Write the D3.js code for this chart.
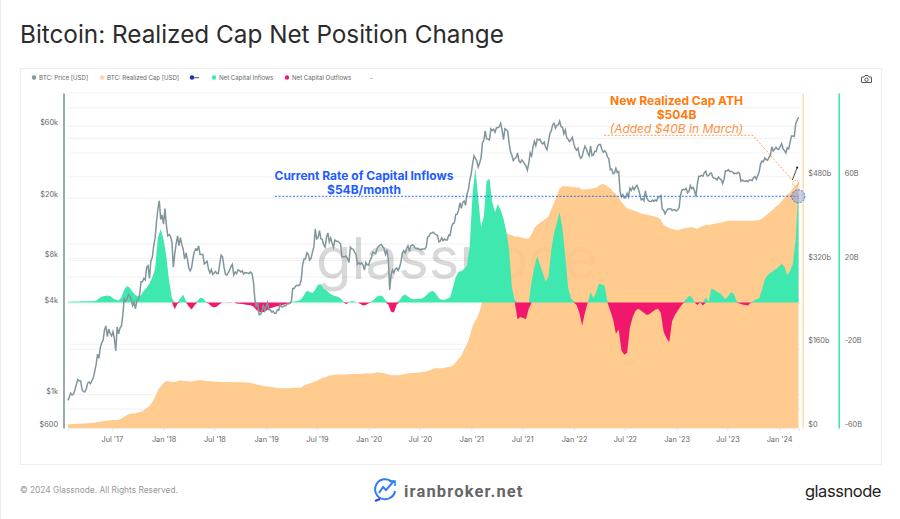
<!DOCTYPE html>
<html>
<head>
<meta charset="utf-8">
<script src="https://cdn.jsdelivr.net/npm/d3@7"></script>
<style>
  html, body { margin: 0; padding: 0; background: #fff; }
  svg { display: block; font-family: Inter, "Noto Sans", sans-serif; }
</style>
</head>
<body>
<svg id="chart" width="900" height="519"></svg>
<script>
// price is sampled every 5 days, cap and flows every 10, all from sampleStart
const sampleStart = new Date(2017, 0, 26);
const priceStepDays = 5;
const sampleStepDays = 10;

const price = [
  915,970,1020,995,1010,1080,1170,1260,1230,1230,1080,1045,1040,1090,1190,1210,1180,1240,1290,1420,
  1580,1850,1740,2050,2200,2300,2690,2850,2420,2720,2550,2450,2610,2350,1950,2800,2530,2750,2850,3350,
  4300,4150,4300,4600,4500,4250,3880,4100,3700,4200,4300,4600,5600,5600,5900,5750,7000,7150,5900,7700,
  8100,9700,10900,14000,17000,19300,14500,15500,13500,17100,13400,11300,11500,11200,10200,7000,8600,10000,11300,9700,
  11000,9900,9200,7900,8700,7900,6900,6600,6950,8050,8900,9250,9100,9700,8500,8500,8500,7350,7500,7650,
  6800,6400,6750,6250,6400,6550,6350,6350,7350,8400,8200,7050,6300,6200,6400,6700,7050,7300,6200,6500,
  6350,6700,6650,6500,6600,6300,6450,6400,6400,6350,6500,6350,5600,4300,3800,4100,3400,3400,3550,3950,
  3600,3800,4050,3650,3650,3530,3570,3450,3460,3650,3620,3950,3820,3820,3880,3880,4000,4000,4030,4150,
  5050,5050,5230,5300,5280,5350,5750,7250,7900,7950,8700,8550,7800,8000,8800,9500,12500,10800,11000,12200,
  10800,10700,9850,9500,11000,11800,10300,10900,10100,9500,10600,10400,10400,10200,10000,8200,8200,8200,8300,7950,
  7500,9500,9250,9200,8800,8500,7300,7500,7300,7500,7200,6700,7500,7250,7200,7750,8100,8800,8700,8600,
  9300,9600,9800,9900,9600,9300,8500,9100,7900,4950,6200,6700,6400,6800,6900,6650,7000,7550,8700,9000,
  8700,9300,9700,8900,9700,9800,9780,9400,9300,9300,9200,9100,9250,9250,9200,9550,11100,11200,11750,11800,
  11950,11650,11500,11400,10300,10400,10950,10500,10750,10600,10600,11400,11350,12950,13600,13750,15600,15700,16700,18700,
  17200,18800,19200,18000,21300,22800,26400,29000,33900,38300,36800,35500,32300,34300,36900,46500,48700,56000,49700,49600,
  48800,57800,56300,57500,55000,58900,58900,59800,63000,56500,49000,57800,57000,55900,46700,40700,38500,35600,36800,37300,
  40000,35600,34600,36000,35200,33800,32800,30800,34200,40000,38200,43800,47800,44800,49500,48900,49300,46800,46000,47200,
  43500,42200,47600,53800,56000,61500,63000,58500,61000,61500,65000,60000,59000,53700,57000,50500,49300,47600,49000,50800,
  46300,43000,41800,43100,38700,36900,37900,41500,44400,42500,40100,38300,44400,38400,38800,41100,41000,44500,45500,45500,
  42200,40500,41400,40400,37700,36600,31000,31300,29200,29500,31700,29700,30100,22100,20500,21200,20100,20200,21600,20500,
  23400,22600,23800,22800,23800,24400,23200,21400,19600,19900,19300,22400,20100,19400,19100,19000,19500,19100,19500,19200,
  20300,20500,20900,17000,16700,15800,16500,17000,17000,17100,16600,16800,16800,16500,16800,17400,20900,22700,23000,22800,
  23300,21800,22200,24300,23200,23600,22400,20600,25000,28000,28000,28400,28100,29600,30300,28200,28300,29200,29500,27600,
  27200,27100,26500,27700,27100,26500,25100,26800,30500,30400,31000,30200,30300,29900,29200,29300,29200,29800,29300,26000,
  26400,26100,25900,26200,25800,26500,26500,26300,27500,27900,26800,28400,29900,33900,35400,35000,37100,36200,35800,37500,
  38700,44000,41200,42300,43700,42500,42300,44200,46100,42500,41600,40000,43300,42600,47100,51800,51800,51500,62400,66000,
  69000
];

const realizedCap = [
  7,7,7.5,8,8,8.5,8.5,9,9.5,10,11,11.5,12.5,14,14.5,15,15.5,15.5,16,18,
  21,25,27,27.5,28,29,31,34,38,42,49,60,72,80,86,90,89,88,88,90,
  91,90,90,89,89,90,91,91,91,90,90,89,89,88.5,88,88,88,88,88,87.5,
  87.5,87.5,87.5,87,87,86,85,83,82,81,80,79.5,79,78,77,76.5,76,76,76,76,
  77,77,77,77.5,81,83,85,87,89,91,94,96,98,100.5,101,101.5,102,102,102,102,
  102.5,103,103,103,103,104,104,104,104,105,106,106,105,104,102,101,101,101,101,102,
  103,104,105,105,106,106,107,107.5,109,111,113,114,114,114,115,116,117,120,125,132,
  138,150,160,175,195,205,215,232,255,275,292,310,330,345,358,366,372,370,368,366,
  366,365,363,362,362,370,382,388,392,396,400,404,418,430,445,458,462,462,462,461,
  460,460,459,455,456,456,457,458,459,463,466,465,462,458,452,447,440,432,425,420,
  418,416,414,412,410,409,408,406,405,404,402,398,388,385,382,380,379,378,379,381,
  382,383,384,382,380,384,386,388,388,389,390,391,392,393,395,396,396,396,396,396,
  396,396,396,396,396,397,397,400,404,409,413,418,423,427,433,440,446,450,458,462,
  470
];

const netFlow = [
  .3,.3,.4,.4,.4,.5,.5,.5,.5,.6,.8,1.8,2.7,3,3.3,3,2,1.3,.9,2.5,
  6,7.8,7,5,3.5,2.7,3.5,5.5,7,9,12,16,31,35,30,22,10,2,-3.3,-.5,
  2,3.6,.5,-2,-3.4,-1.5,.5,2.2,2,.4,-.5,-1.8,-2.5,-2,-.8,.1,.1,-.2,-.2,0,
  -.5,-.7,-.8,-1,-1.2,-1.4,-2,-3.5,-4.5,-4.7,-4.5,-3.5,-2.8,-2.4,-2,-1.7,-1.4,-1,-.7,-.2,
  .3,.5,.8,1.5,3.5,5.5,5,4.5,6,8.5,8.5,6.5,5.8,4.5,3.5,3,2.7,2,.3,-.8,
  .2,.7,.4,0,-.6,-1.5,-1.3,-.4,.4,1.5,2.8,3.3,2.8,1,-1,-4.5,-4.8,-1,1,3,
  3.8,2.8,1.8,1.5,1.6,1.7,1.9,2.7,4,5.2,5.4,4,2,1.2,1.3,1.7,2.5,7,12,14.5,
  15,16,17.5,27,52,64,50,36,41,58,59,48,43,47,44,40,34,25,7,1,
  -8,-7,-7.5,-8,-3,10,17,22,18,14,10,12,25,33,38,43,35,22,7,2,
  .5,-1.3,-5,-11,-5,0,5,2,5,9,8.5,8,.5,-4,-8,-15,-13,-23,-25,-24,
  -12,-7,-4,-3,-4,-5,-6,-5.5,-4.5,-3.5,-3,-5,-14,-17,-19,-9,-6,-4,-2,-.3,
  1.5,3,2.5,.2,-1.3,.5,-1.5,2.5,.2,6.5,6,5,4.5,3,1.5,3,4.8,4,.5,-.5,
  -1,-1.2,-1.5,-.2,.6,1.5,2,6,11,13,14,15,16,17,18.5,17,13,15,18.5,30,
  54
];

const xTicks = ["2017-07","2018-01","2018-07","2019-01","2019-07","2020-01","2020-07",
                "2021-01","2021-07","2022-01","2022-07","2023-01","2023-07","2024-01"];
const priceTicks = [600, 1000, 4000, 8000, 20000, 60000];
const priceTickLabels = ["$600", "$1k", "$4k", "$8k", "$20k", "$60k"];
const priceGrid = [800, 1000, 2000, 4000, 6000, 8000, 10000, 20000, 40000, 50000, 60000, 80000, 100000];
const capTicks = [0, 160, 320, 480];
const capTickLabels = ["$0", "$160b", "$320b", "$480b"];
const flowTicks = [-60, -20, 20, 60];
const flowTickLabels = ["-60B", "-20B", "20B", "60B"];
const legendNames = ["BTC: Price [USD]", "BTC: Realized Cap [USD]", "", "Net Capital Inflows", "Net Capital Outflows"];

const colors = {price: "#80969c", cap: "#ffc583", inflow: "#3fe8ae", outflow: "#f1176c",
                blue: "#1d5cff", orange: "#ff7a0a", grid: "#f3f3f3", label: "#666"};
const plot = {left: 68, right: 798.5, top: 93, bottom: 428};

const svg = d3.select("#chart");
const parseMonth = d3.timeParse("%Y-%m");
const rows = realizedCap.map((c, i) => ({
  date: d3.timeDay.offset(sampleStart, i * sampleStepDays),
  cap: c, flow: netFlow[i]
}));
const priceRows = price.map((p, i) => ({
  date: d3.timeDay.offset(sampleStart, i * priceStepDays),
  price: p
}));

function make_scales() {
  return {
    x: d3.scaleTime()
      .domain([sampleStart, d3.timeDay.offset(sampleStart, (realizedCap.length - 1) * sampleStepDays)])
      .range([plot.left, plot.right]),
    price: d3.scaleLog().domain([600, 100000]).range([plot.bottom, plot.top]),
    cap: d3.scaleLinear().domain([0, 640]).range([plot.bottom, plot.top]),
    flow: d3.scaleLinear().domain([-60, 100]).range([plot.bottom, plot.top])
  };
}

function draw_frame() {
  svg.append("rect").attr("x", 0).attr("y", 0).attr("width", 1).attr("height", 519).attr("fill", "#ececec");
  svg.append("rect")
    .attr("x", 20.5).attr("y", 68.5).attr("width", 861).attr("height", 396)
    .attr("fill", "#fff").attr("stroke", "#eeeeee");
  svg.append("text").attr("x", 20).attr("y", 43)
    .attr("font-size", 24.3).attr("fill", "#2c2c2c").text("Bitcoin: Realized Cap Net Position Change");
  svg.append("text").attr("x", 20).attr("y", 493)
    .attr("font-size", 8.35).attr("fill", "#999").text("© 2024 Glassnode. All Rights Reserved.");
  svg.append("text").attr("x", 881).attr("y", 497).attr("text-anchor", "end")
    .attr("font-size", 16.5).attr("letter-spacing", -0.45).attr("fill", "#222").text("glassnode");

  // iranbroker mark
  let logo = svg.append("g").attr("fill", "none").attr("stroke", "#2f7df0").attr("stroke-width", 2);
  logo.append("path").attr("d", "M392 482a10 10 0 1 0 3 9");
  logo.append("path").attr("d", "M379 493l4-6 3 3 8-9");
  logo.append("path").attr("d", "M389 481h6v5").attr("stroke-width", 1.6);
  logo.append("path").attr("d", "M380 499l-5 2").attr("stroke", "#3a3ae0");
  svg.append("text").attr("x", 404).attr("y", 497)
    .attr("font-size", 16.5).attr("font-weight", 700).attr("letter-spacing", 1.15)
    .attr("font-family", "Roboto").attr("fill", "#666").text("iranbroker.net");
}

function draw_legend() {
  let dotX = [34, 102, 0, 214, 287];
  let dotColors = [colors.price, "#ffd3a3", "", colors.inflow, colors.outflow];
  let legend = svg.append("g").attr("font-size", 6.1).attr("fill", colors.label);
  legendNames.forEach((name, i) => {
    if (!name) return;
    legend.append("circle").attr("cx", dotX[i]).attr("cy", 77.5).attr("r", 2.2).attr("fill", dotColors[i]);
    legend.append("text").attr("x", dotX[i] + 5).attr("y", 80).text(name);
  });
  legend.append("circle").attr("cx", 192).attr("cy", 77.5).attr("r", 2.2).attr("fill", "#1a2ec8");
  legend.append("line").attr("x1", 194).attr("x2", 199).attr("y1", 77.7).attr("y2", 77.7).attr("stroke", "#556");
  legend.append("text").attr("x", 370).attr("y", 79.5).text("-");

  // camera icon
  let cam = svg.append("g").attr("fill", "none").attr("stroke", "#555").attr("stroke-width", 1);
  cam.append("path").attr("d", "M862 77h2l1-1.5h3l1 1.5h2a.5.5 0 0 1 .5 .5v4.5a.5.5 0 0 1 -.5 .5h-9a.5.5 0 0 1 -.5 -.5v-4.5a.5.5 0 0 1 .5 -.5z");
  cam.append("circle").attr("cx", 866.5).attr("cy", 79.7).attr("r", 1.7);
}

function draw_axes(scales) {
  svg.append("g").selectAll("line")
    .data(priceGrid).enter()
    .append("line")
    .attr("x1", plot.left).attr("x2", plot.right + 1.5)
    .attr("y1", d => scales.price(d)).attr("y2", d => scales.price(d))
    .attr("stroke", colors.grid).attr("stroke-width", 1.2);
  svg.append("g").selectAll("line")
    .data(capTicks.slice(1)).enter()
    .append("line")
    .attr("x1", plot.left).attr("x2", plot.right + 1.5)
    .attr("y1", d => scales.cap(d)).attr("y2", d => scales.cap(d))
    .attr("stroke", colors.grid).attr("stroke-width", 1.2);

  let x_axis = d3.axisBottom(scales.x)
    .tickValues(xTicks.map(parseMonth))
    .tickFormat(d3.timeFormat("%b '%y"))
    .tickSize(3).tickPadding(6);
  style_axis(svg.append("g").attr("transform", `translate(0, ${plot.bottom})`).call(x_axis), "#eeeeee");

  let price_axis = d3.axisLeft(scales.price)
    .tickValues(priceTicks)
    .tickFormat(d => priceTickLabels[priceTicks.indexOf(d)])
    .tickSize(0).tickPadding(5.5);
  style_axis(svg.append("g").attr("transform", "translate(63.5, 0)").call(price_axis), colors.price, -3.8);

  let cap_axis = d3.axisRight(scales.cap)
    .tickValues(capTicks)
    .tickFormat(d => capTickLabels[capTicks.indexOf(d)])
    .tickSize(0).tickPadding(5.5);
  style_axis(svg.append("g").attr("transform", "translate(802.7, 0)").call(cap_axis), "#ffdcb4", -3.8);

  let flow_axis = d3.axisRight(scales.flow)
    .tickValues(flowTicks)
    .tickFormat(d => flowTickLabels[flowTicks.indexOf(d)])
    .tickSize(0).tickPadding(6);
  style_axis(svg.append("g").attr("transform", "translate(838.7, 0)").call(flow_axis), colors.inflow, -3.8);
}

function style_axis(axis, lineColor, labelShift) {
  axis.select(".domain").attr("stroke", lineColor).attr("stroke-width", 1.6);
  axis.selectAll(".tick line").attr("stroke", "#e8e8e8");
  axis.selectAll("text").attr("font-size", 7.3).attr("fill", colors.label)
    .attr("font-family", "Inter");
  if (labelShift) axis.selectAll("text").attr("transform", `translate(0, ${labelShift})`);
}

function draw_series(scales) {
  // watermark sits under the cap area, which only lets a little of it through
  svg.append("text").attr("x", 316).attr("y", 279)
    .attr("font-size", 58).attr("fill", "#000").attr("opacity", 0.15)
    .attr("font-family", "Inter").text("glassnode");

  let cap_area = d3.area()
    .x(d => scales.x(d.date))
    .y0(plot.bottom)
    .y1(d => scales.cap(d.cap));
  svg.append("path").datum(rows).attr("d", cap_area).attr("fill", colors.cap).attr("fill-opacity", 0.9);

  let flow_area = d3.area()
    .x(d => scales.x(d.date))
    .y0(scales.flow(0));
  svg.append("path").datum(rows)
    .attr("d", flow_area.y1(d => scales.flow(Math.max(d.flow, 0))))
    .attr("fill", colors.inflow);
  svg.append("path").datum(rows)
    .attr("d", flow_area.y1(d => scales.flow(Math.min(d.flow, 0))))
    .attr("fill", colors.outflow);

  let path_generator = d3.line()
    .x(d => scales.x(d.date))
    .y(d => scales.price(d.price));
  svg.append("path").datum(priceRows)
    .attr("d", path_generator)
    .attr("fill", "none").attr("stroke", colors.price).attr("stroke-width", 1.5);
}

function draw_annotations() {
  let note = svg.append("g").attr("text-anchor", "middle").attr("font-size", 12);
  note.append("text").attr("x", 364).attr("y", 180).attr("font-weight", 700).attr("fill", colors.blue)
    .text("Current Rate of Capital Inflows");
  note.append("text").attr("x", 364).attr("y", 194).attr("font-weight", 700).attr("fill", colors.blue)
    .text("$54B/month");
  note.append("text").attr("x", 676.5).attr("y", 104.5).attr("font-weight", 700).attr("fill", colors.orange)
    .text("New Realized Cap ATH");
  note.append("text").attr("x", 676.5).attr("y", 118.5).attr("font-weight", 700).attr("fill", colors.orange)
    .text("$504B");
  note.append("text").attr("x", 676.5).attr("y", 132.5).attr("font-style", "italic").attr("fill", "#ff8f45")
    .text("(Added $40B in March)");

  svg.append("line").attr("x1", 275).attr("x2", 798).attr("y1", 196.3).attr("y2", 196.3)
    .attr("stroke", "#2a6cf5").attr("stroke-width", 1).attr("stroke-dasharray", "2,1.6");
  svg.append("path").attr("d", "M604 135.3H753L792 180")
    .attr("fill", "none").attr("stroke", "#ff9440").attr("stroke-width", 0.9).attr("stroke-dasharray", "2,1.6");
  svg.append("circle").attr("cx", 795.7).attr("cy", 183.3).attr("r", 3)
    .attr("fill", "none").attr("stroke", "#ff8c30").attr("stroke-width", 0.9).attr("stroke-dasharray", "1.5,1");
  svg.append("circle").attr("cx", 798.3).attr("cy", 196.3).attr("r", 6.6)
    .attr("fill", "#7f97d8").attr("fill-opacity", 0.45)
    .attr("stroke", "#2a6cf5").attr("stroke-width", 0.9).attr("stroke-dasharray", "2,1.4");
  svg.append("line").attr("x1", 792.3).attr("y1", 180).attr("x2", 797.2).attr("y2", 167.5)
    .attr("stroke", "#222").attr("stroke-width", 0.8);
  svg.append("circle").attr("cx", 797.2).attr("cy", 167.5).attr("r", 1).attr("fill", "#111");
}

let scales = make_scales();
draw_frame();
draw_legend();
draw_axes(scales);
draw_series(scales);
draw_annotations();
</script>
</body>
</html>
